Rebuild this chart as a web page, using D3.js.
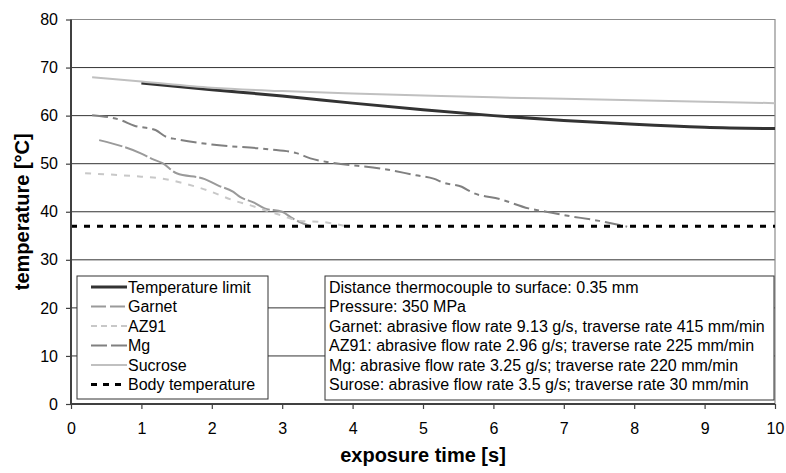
<!DOCTYPE html>
<html>
<head>
<meta charset="utf-8">
<script src="https://cdn.jsdelivr.net/npm/d3@7"></script>
<style>
  body { margin: 0; background: #fff; }
  svg { display: block; font-family: "Liberation Sans", Arial, sans-serif; }
  .tick text { font-size: 16px; fill: #000; }
  .ttl { font-size: 20px; font-weight: bold; fill: #000; }
  .leg { font-size: 16px; fill: #000; }
</style>
</head>
<body>
<script>
// ---------------------------------------------------------------
// data: [exposure time s, temperature °C]
var limitData   = [[1.0,66.8],[2.0,65.4],[3.0,64.1],[4.0,62.6],[5.0,61.2],[6.0,60.0],[7.0,59.0],[8.0,58.2],[9.0,57.6],[10.0,57.3]];
var garnetData  = [[0.4,54.9],[1.0,52.1],[1.15,51.0],[1.3,50.1],[1.5,48.0],[1.9,46.8],[2.1,45.4],[2.3,44.2],[2.4,43.1],[2.6,41.9],[2.75,40.7],[3.0,40.0],[3.15,38.6],[3.4,37.0]];
var az91Data    = [[0.2,48.0],[1.0,47.3],[1.3,46.9],[1.6,45.9],[1.95,44.4],[2.3,42.4],[2.6,41.1],[2.8,40.1],[3.0,39.2],[3.25,38.1],[3.55,37.9],[3.9,37.0]];
var mgData      = [[0.3,60.1],[0.7,59.1],[0.9,57.9],[1.2,57.0],[1.35,55.6],[1.5,55.1],[2.0,54.0],[2.8,53.0],[3.2,52.2],[3.4,51.1],[3.7,50.2],[4.4,49.0],[4.9,47.6],[5.15,46.9],[5.3,46.0],[5.55,45.2],[5.7,44.0],[6.1,42.6],[6.5,40.7],[6.75,40.0],[7.0,39.3],[7.5,38.1],[7.9,36.9]];
var sucroseData = [[0.3,68.0],[1.0,67.1],[2.0,65.8],[3.0,65.1],[4.0,64.6],[5.0,64.2],[6.0,63.8],[7.0,63.5],[8.0,63.2],[9.0,62.9],[10.0,62.6]];
var bodyData    = [[0,37],[10,37]];

var seriesNames = ["Temperature limit", "Garnet", "AZ91", "Mg", "Sucrose", "Body temperature"];
var xTicks = [0,1,2,3,4,5,6,7,8,9,10];
var yTicks = [0,10,20,30,40,50,60,70,80];
var notes = [
  "Distance thermocouple to surface: 0.35 mm",
  "Pressure: 350 MPa",
  "Garnet: abrasive flow rate 9.13 g/s, traverse rate 415 mm/min",
  "AZ91: abrasive flow rate 2.96 g/s; traverse rate 225 mm/min",
  "Mg: abrasive flow rate 3.25 g/s; traverse rate 220 mm/min",
  "Surose: abrasive flow rate 3.5 g/s; traverse rate 30 mm/min"
];
// ---------------------------------------------------------------

var W = 786, H = 473;
var margin = { top: 19.5, right: 11, bottom: 69, left: 71 };
var width = W - margin.left - margin.right;
var height = H - margin.top - margin.bottom;

// line styles, same order as seriesNames
var styles = [
  { data: limitData,   color: "#333333", w: 3,   dash: null },
  { data: garnetData,  color: "#9a9a9a", w: 2,   dash: "24,3" },
  { data: az91Data,    color: "#c8c8c8", w: 2,   dash: "6,7" },
  { data: mgData,      color: "#808080", w: 2,   dash: "16,5,5,5" },
  { data: sucroseData, color: "#c0c0c0", w: 2,   dash: null },
  { data: bodyData,    color: "#000000", w: 3,   dash: "6,7" }
];

var svg = d3.select("body").append("svg")
    .attr("width", W)
    .attr("height", H);

var g = svg.append("g")
    .attr("transform", "translate(" + margin.left + "," + margin.top + ")");

var x = d3.scaleLinear().domain([0, 10]).range([0, width]);
var y = d3.scaleLinear().domain([0, 80]).range([height, 0]);

// gridlines
g.append("g").selectAll("line")
    .data(yTicks.filter(function(d) { return d > 0 && d < 80; }))
    .enter().append("line")
    .attr("x1", 0).attr("x2", width)
    .attr("y1", function(d) { return y(d); })
    .attr("y2", function(d) { return y(d); })
    .attr("stroke", "#333")
    .attr("stroke-width", 1);

// plot border top / right
g.append("path")
    .attr("d", "M0," + y(80) + "H" + width + "V" + height)
    .attr("fill", "none")
    .attr("stroke", "#8c8c8c")
    .attr("stroke-width", 1.2);

// series
var line = d3.line()
    .x(function(d) { return x(d[0]); })
    .y(function(d) { return y(d[1]); })
    .curve(d3.curveMonotoneX);

g.append("g").selectAll("path")
    .data(styles)
    .enter().append("path")
    .attr("d", function(d) { return line(d.data); })
    .attr("fill", "none")
    .attr("stroke", function(d) { return d.color; })
    .attr("stroke-width", function(d) { return d.w; })
    .attr("stroke-dasharray", function(d) { return d.dash; });

// axes
var xAxis = g.append("g")
    .attr("transform", "translate(0," + height + ")")
    .call(d3.axisBottom(x).tickValues(xTicks).tickSize(5).tickPadding(14).tickFormat(d3.format("d")));
var yAxis = g.append("g")
    .call(d3.axisLeft(y).tickValues(yTicks).tickSize(5).tickPadding(8).tickFormat(d3.format("d")));

[xAxis, yAxis].forEach(function(a) {
  a.select(".domain").attr("stroke", "#404040").attr("stroke-width", 2);
  a.selectAll(".tick line").attr("stroke", "#404040").attr("stroke-width", 1.2);
  a.selectAll(".tick text").style("font-family", "'Liberation Sans', Arial, sans-serif");
});
xAxis.select(".domain").attr("d", "M0,0H" + width);
yAxis.select(".domain").attr("d", "M0,0V" + height);

// axis titles
svg.append("text")
    .attr("class", "ttl")
    .attr("x", margin.left + width / 2)
    .attr("y", 462)
    .attr("text-anchor", "middle")
    .text("exposure time [s]");

svg.append("text")
    .attr("class", "ttl")
    .attr("transform", "translate(29," + (margin.top + height / 2) + ") rotate(-90)")
    .attr("text-anchor", "middle")
    .text("temperature [°C]");

// legend box
var rowH = 19.5;
var leg = svg.append("g").attr("transform", "translate(77,276)");
leg.append("rect")
    .attr("width", 191).attr("height", 123)
    .attr("fill", "#fff").attr("stroke", "#333").attr("stroke-width", 1);

var items = leg.selectAll(".item")
    .data(styles)
    .enter().append("g")
    .attr("transform", function(d, i) { return "translate(0," + (11 + i * rowH) + ")"; });

items.append("line")
    .attr("x1", 14).attr("x2", 50)
    .attr("stroke", function(d) { return d.color; })
    .attr("stroke-width", function(d) { return d.w; })
    .attr("stroke-dasharray", function(d, i) { return ["none", "15,4", "6,4", "16,4", "none", "6,6"][i]; });

items.append("text")
    .attr("class", "leg")
    .attr("x", 51)
    .attr("dy", "0.36em")
    .text(function(d, i) { return seriesNames[i]; });

// notes box
var nb = svg.append("g").attr("transform", "translate(325,276)");
nb.append("rect")
    .attr("width", 449).attr("height", 124)
    .attr("fill", "#fff").attr("stroke", "#333").attr("stroke-width", 1);

nb.selectAll("text")
    .data(notes)
    .enter().append("text")
    .attr("class", "leg")
    .attr("x", 4)
    .attr("y", function(d, i) { return 11 + i * rowH; })
    .attr("dy", "0.36em")
    .text(function(d) { return d; });
</script>
</body>
</html>
